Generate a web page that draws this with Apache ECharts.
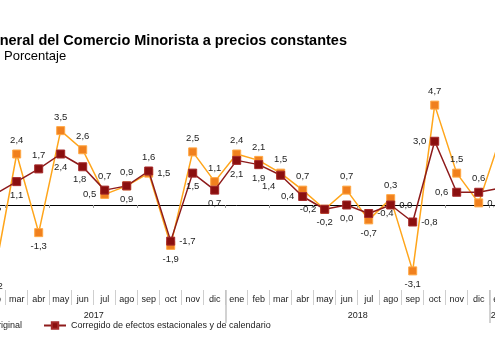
<!DOCTYPE html>
<html>
<head>
<meta charset="utf-8">
<script src="https://cdn.jsdelivr.net/npm/echarts@6/dist/echarts.min.js"></script>
<style>
html,body{margin:0;padding:0;background:#fff;overflow:hidden;width:495px;height:357px;}
#wrap{position:relative;width:495px;height:357px;overflow:hidden;}
#chart{position:absolute;left:-60px;top:0;width:620px;height:357px;}
</style>
</head>
<body>
<div id="wrap"><div id="chart"></div></div>
<script>
// Categories: ene 2017 .. ene 2019
const months = ['ene','feb','mar','abr','may','jun','jul','ago','sep','oct','nov','dic',
                'ene','feb','mar','abr','may','jun','jul','ago','sep','oct','nov','dic',
                'ene'];
const monthYears = [2017,2017,2017,2017,2017,2017,2017,2017,2017,2017,2017,2017,
                    2018,2018,2018,2018,2018,2018,2018,2018,2018,2018,2018,2018,
                    2019];
const years = ['2017','2018','2019'];
// Series values (%)
const original  = [null,-3.2,2.4,-1.3,3.5,2.6,0.5,0.9,1.5,-1.9,2.5,1.1,
                   2.4,2.1,1.5,0.7,-0.2,0.7,-0.7,0.3,-3.1,4.7,1.5,0.1,
                   3.2];
const corregido = [null,0.5,1.1,1.7,2.4,1.8,0.7,0.9,1.6,-1.7,1.5,0.7,
                   2.1,1.9,1.4,0.4,-0.2,0.0,-0.4,0.0,-0.8,3.0,0.6,0.6,
                   0.8];
const seriesNames = ['Original','Corregido de efectos estacionales y de calendario'];

// Label placement (style only)
const origPos = ['top','bottom','top','bottom','top','top','left','bottom','right','bottom','top','top',
                 'top','top','top','top','left','top','bottom','top','bottom','top','top','right',
                 'right'];
const corrPos = ['left','bottom','bottom','top','bottom','bottom','top','top','top','right','bottom','bottom',
                 'bottom','bottom','bottom','left','bottom','bottom','right','right','right','left','left','top',
                 'right'];
const corrOffset = { 14: [-12, -2], 5: [-3, -1] };

// Year label positions / separators derived from category years
const yearCenters = years.map(y => {
  const idx = monthYears.map((v,i)=>v===+y?i:-1).filter(i=>i>=0);
  return (idx[0] + idx[idx.length-1]) / 2;
});
const yearSeps = [];
for (let i = 1; i < monthYears.length; i++) if (monthYears[i] !== monthYears[i-1]) yearSeps.push(i - 0.5);

const fmt = p => (p.value == null ? '' : Number(p.value).toFixed(1).replace('.', ','));
const FONT = '"Liberation Sans", Arial, sans-serif';
const OFF = 60; // chart canvas is shifted left by this many px

const chart = echarts.init(document.getElementById('chart'));
chart.setOption({
  animation: false,
  backgroundColor: '#ffffff',
  textStyle: { fontFamily: FONT },
  title: [
    { text: 'Índice General del Comercio Minorista a precios constantes',
      right: 620 - (347 + OFF), top: 33, padding: 0,
      textStyle: { fontFamily: FONT, fontSize: 14.5, fontWeight: 'bold', color: '#000' } },
    { text: 'Porcentaje', left: 4 + OFF, top: 50, padding: 0,
      textStyle: { fontFamily: FONT, fontSize: 13, fontWeight: 'normal', color: '#000' } }
  ],
  legend: {
    data: seriesNames,
    left: -37 + OFF, top: 321, itemWidth: 22, itemHeight: 8, itemGap: 21, padding: 0,
    textStyle: { fontFamily: FONT, fontSize: 9, color: '#222' }
  },
  grid: { left: -38.3 + OFF, width: 550, top: 98.75, bottom: 67 },
  xAxis: [
    { type: 'category', data: months, boundaryGap: true,
      axisLine: { onZero: true, lineStyle: { color: '#000', width: 1 } },
      axisTick: { show: true, length: 3, lineStyle: { color: '#999' } },
      axisLabel: { show: false }, splitLine: { show: false } },
    { type: 'category', data: months, boundaryGap: true, position: 'bottom',
      axisLine: { show: false, onZero: false },
      axisTick: { show: true, length: 15, lineStyle: { color: '#cfcfcf' } },
      axisLabel: { show: true, margin: 5, fontSize: 9, color: '#222', fontFamily: FONT, interval: 0 },
      splitLine: { show: false } },
    { type: 'value', min: -0.5, max: months.length - 0.5, position: 'bottom',
      axisLine: { show: false, onZero: false }, splitLine: { show: false },
      axisTick: { show: true, customValues: yearSeps, length: 33, lineStyle: { color: '#c4c4c4', width: 1.5 } },
      axisLabel: { show: true, customValues: yearCenters, margin: 21, fontSize: 9, color: '#222', fontFamily: FONT,
        formatter: v => years[yearCenters.findIndex(c => Math.abs(c - v) < 0.01)] || '' } }
  ],
  yAxis: { type: 'value', min: -4, max: 5, show: false },
  series: [
    { name: seriesNames[0], type: 'line', xAxisIndex: 0,
      data: original.map((v,i) => ({ value: v, label: { position: origPos[i] } })),
      symbol: 'rect', symbolSize: 8,
      lineStyle: { color: '#FFA51A', width: 1.5 },
      itemStyle: { color: '#F0801E', borderColor: '#FFA845', borderWidth: 1 },
      label: { show: true, formatter: fmt, fontSize: 9.5, color: '#222', distance: 4, fontFamily: FONT },
      connectNulls: false, z: 2 },
    { name: seriesNames[1], type: 'line', xAxisIndex: 0,
      data: corregido.map((v,i) => ({ value: v, label: Object.assign({ position: corrPos[i] },
                                   corrOffset[i] ? { offset: corrOffset[i] } : {}) })),
      symbol: 'rect', symbolSize: 8,
      lineStyle: { color: '#8E1B1B', width: 1.5 },
      itemStyle: { color: '#8A0F0F', borderColor: '#A52A2A', borderWidth: 1 },
      label: { show: true, formatter: fmt, fontSize: 9.5, color: '#222', distance: 4, fontFamily: FONT },
      connectNulls: false, z: 3 }
  ]
});
</script>
</body>
</html>
